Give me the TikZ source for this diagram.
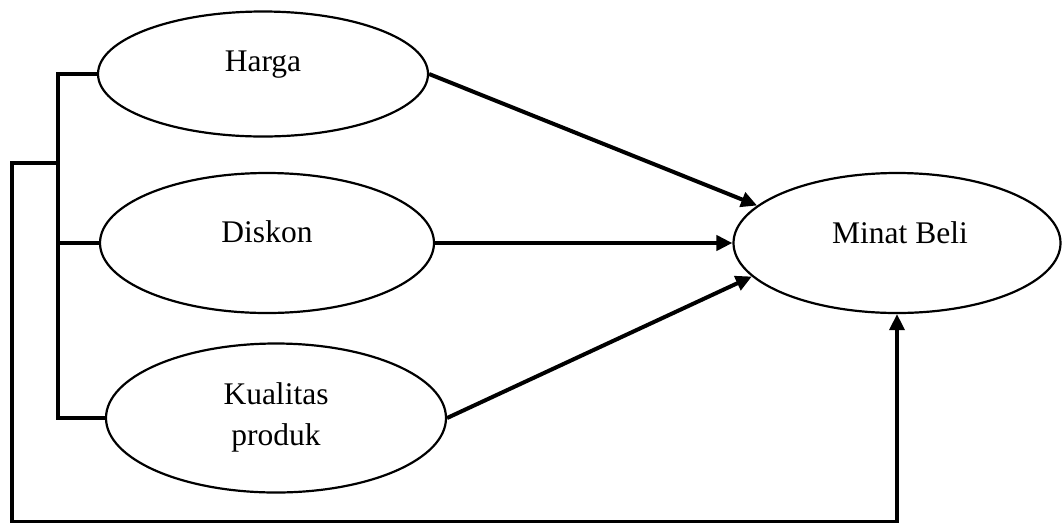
\documentclass[tikz,border=0pt]{standalone}
\usepackage{fontspec}
\setmainfont{Liberation Serif}
\usetikzlibrary{arrows.meta,shapes.geometric,calc}
\tikzset{
  var/.style={draw=black, line width=2.2pt, ellipse, inner sep=0pt},
  lbl/.style={font=\fontsize{31.5}{41}\selectfont, inner sep=0pt, anchor=base, align=center},
  arr/.style={line width=4pt, -{Triangle[length=16pt,width=15pt]}},
  brk/.style={line width=3.5pt},
}
\begin{document}
\begin{tikzpicture}[x=1pt,y=-1pt]
\useasboundingbox (0,0) rectangle (1062,523);
% ellipses
\node[var, minimum width=330pt, minimum height=125pt] (h) at (263,74) {};
\node[var, minimum width=334pt, minimum height=140pt] (d) at (267,243) {};
\node[var, minimum width=340pt, minimum height=149pt] (k) at (276,418) {};
\node[var, minimum width=327pt, minimum height=140pt] (mb) at (897,243) {};
% labels
\node[lbl] (ht) at (263,71) {Harga};
\node[lbl] (dt) at (267,242) {Diskon};
\node[lbl] (kt1) at (276,404) {Kualitas};
\node[lbl] (kt2) at (276,445) {produk};
\node[lbl] (mt) at (900,243) {Minat Beli};
% arrows to Minat Beli
\draw[arr] (h.east) -- (mb.165);
\draw[arr] (d.east) -- (mb.west);
\draw[arr] (k.east) -- (mb.193);
% bracket
\coordinate (bx) at (58,0);
\coordinate (jn) at (58,163);
\coordinate (fbtop) at (12,163);
\coordinate (fbbot) at (12,521.5);
\draw[brk] (h.west) -- (h.west -| bx) -- (k.west -| bx) -- (k.west);
\draw[brk] (d.west) -- (d.west -| bx);
% feedback path
\draw[brk, -{Triangle[length=16pt,width=15pt]}] (jn) -- (fbtop) -- (fbbot) -| (mb.south);
\end{tikzpicture}
\end{document}
